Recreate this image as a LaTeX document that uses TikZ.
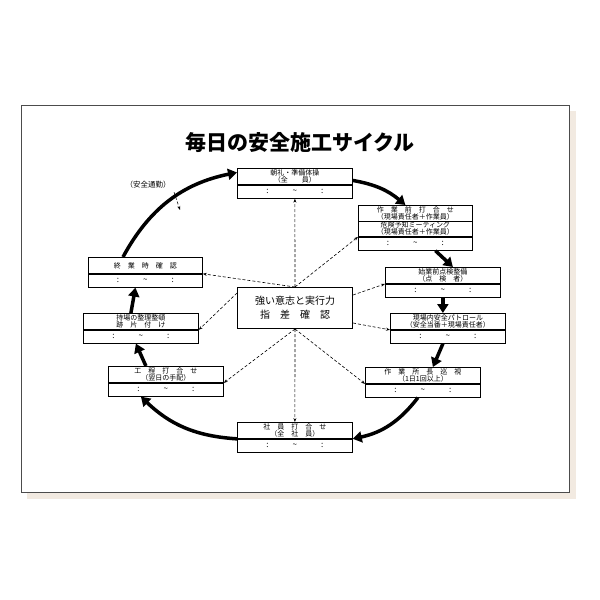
\documentclass[tikz,border=0pt]{standalone}
\usepackage{fontspec}
\setmainfont{Noto Sans CJK JP}
\usetikzlibrary{positioning,arrows.meta}

\tikzset{
    headbox/.style={draw,line width=0.8pt,minimum height=16pt,inner sep=1pt,
        align=center,font=\fontsize{7}{7.5}\selectfont},
    timebox/.style={draw,line width=0.8pt,minimum height=13pt,inner sep=1pt,
        font=\fontsize{8}{8}\selectfont},
    cyclearrow/.style={line width=3.5pt,-{Triangle[length=9pt,width=11pt]}},
    linkarrow/.style={densely dashed,line width=0.6pt,-{Stealth[length=4pt]}}
}

% header box plus time row below it
\newcommand{\cyclebox}[5]{
    \node[headbox,minimum width=#4pt,text width=#4pt-4pt,anchor=north west] (#1) at (#2) {#5};
    \node[timebox,minimum width=#4pt,below=0pt of #1] (#3) {:\hspace{3em}\textasciitilde\hspace{3em}:};
}

\begin{document}
\begin{tikzpicture}[x=1pt,y=-1pt]

\useasboundingbox (0,0) rectangle (600,600);
\fill[white] (0,0) rectangle (600,600);
\fill[black!12!brown!15] (27,111) rectangle (576,499);
\fill[white] (21,105) rectangle (569,492);
\draw[black!70,line width=0.8pt] (21,105) rectangle (569,492);

\node[font=\fontsize{21}{21}\selectfont\bfseries] (title) at (300,143) {毎日の安全施工サイクル};

\cyclebox{chorei}{237,168}{choreit}{115}{朝礼・準備体操\\（全　　員）}
\cyclebox{mae}{358,205}{maet}{114}{作　業　前　打　合　せ\\（現場責任者＋作業員）\\危険予知ミーティング\\（現場責任者＋作業員）}
\draw[line width=0.8pt] (mae.west) -- (mae.east);
\cyclebox{shigyo}{385,267}{shigyot}{115}{始業前点検整備\\（点　検　者）}
\cyclebox{patrol}{390,313}{patrolt}{115}{現場内安全パトロール\\（安全当番＋現場責任者）}
\cyclebox{junshi}{365,367}{junshit}{115}{作　業　所　長　巡　視\\（1日1回以上）}
\cyclebox{shain}{237,422}{shaint}{115}{社　員　打　合　せ\\（全　社　員）}
\cyclebox{kotei}{108,366}{koteit}{115}{工　程　打　合　せ\\（翌日の手配）}
\cyclebox{seiri}{83,313}{seirit}{115}{持場の整理整頓\\跡　片　付　け}
\cyclebox{shugyo}{88,257}{shugyot}{114}{終　業　時　確　認}

\node[draw,line width=1pt,minimum width=115pt,minimum height=41pt,align=center,
    font=\fontsize{10}{14}\selectfont,anchor=north west] (center) at (237,287)
    {強い意志と実行力\\指　差　確　認};

\node[font=\fontsize{7.5}{8}\selectfont] (tsukin) at (148,185) {（安全通勤）};
\coordinate (tsukinend) at (180,210);
\draw[linkarrow] (tsukin.south east) -- (tsukinend);

% cycle
\draw[cyclearrow] (shugyo.north west) ++(35,0) to[bend left=25] ([yshift=4pt]chorei.west);
\draw[cyclearrow] ([yshift=-4pt]chorei.east) to[bend left=15] ([xshift=-10pt]mae.north);
\draw[cyclearrow] ([xshift=20pt]maet.south) -- ([xshift=10pt]shigyo.north);
\draw[cyclearrow] ([xshift=0pt]shigyot.south) -- ([xshift=-5pt]patrol.north);
\draw[cyclearrow] ([xshift=-5pt]patrolt.south) -- ([xshift=10pt]junshi.north);
\draw[cyclearrow] ([xshift=-5pt]junshit.south) to[bend left=20] (shaint.north east);
\draw[cyclearrow] (shaint.north west) to[bend left=20] ([xshift=-25pt]koteit.south);
\draw[cyclearrow] ([xshift=-20pt]kotei.north) -- ([xshift=-5pt]seirit.south);
\draw[cyclearrow] ([xshift=-10pt]seiri.north) -- ([xshift=-10pt]shugyot.south);

% links from center
\draw[linkarrow] (center.north) -- (choreit.south);
\draw[linkarrow] (center.north) -- (maet.north west);
\draw[linkarrow] (center.north) -- (shugyot.north east);
\draw[linkarrow] ([yshift=-8pt]center.north east) -- (shigyot.north west);
\draw[linkarrow] ([yshift=-6pt]center.north west) -- (seirit.north east);
\draw[linkarrow] ([yshift=6pt]center.south east) -- (patrolt.north west);
\draw[linkarrow] (center.south) -- (koteit.north east);
\draw[linkarrow] (center.south) -- (junshit.north west);
\draw[linkarrow] (center.south) -- (shain.north);

\end{tikzpicture}
\end{document}
